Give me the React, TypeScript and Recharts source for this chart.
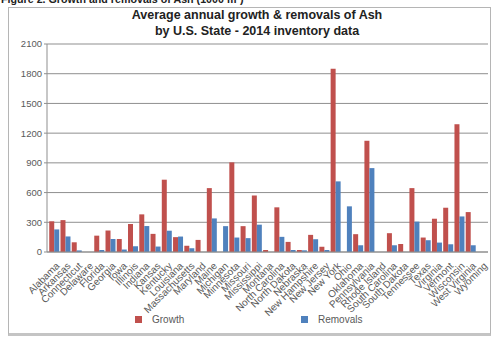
import { BarChart, Bar, XAxis, YAxis, CartesianGrid } from "recharts";

const states = [
  "Alabama", "Arkansas", "Connecticut", "Delaware", "Florida", "Georgia", "Iowa", "Illinois",
  "Indiana", "Kansas", "Kentucky", "Louisiana", "Massachusetts", "Maryland", "Maine", "Michigan",
  "Minnesota", "Missouri", "Mississippi", "Montana", "North Carolina", "North Dakota", "Nebraska",
  "New Hampshire", "New Jersey", "New York", "Ohio", "Oklahoma", "Pennsylvania", "Rhode Island",
  "South Carolina", "South Dakota", "Tennessee", "Texas", "Virginia", "Vermont", "Wisconsin",
  "West Virginia", "Wyoming",
];

const growth = [
  310, 322, 98, 0, 165, 217, 131, 283, 380, 183, 730, 150, 63, 122, 645, 0, 905, 261, 570, 20,
  451, 102, 20, 173, 53, 1850, 0, 180, 1123, 0, 190, 81, 645, 146, 336, 447, 1290, 403, 0,
];

const removals = [
  228, 157, 16, 0, 20, 131, 25, 58, 262, 55, 215, 156, 38, 0, 339, 261, 146, 140, 276, 0,
  153, 20, 17, 129, 20, 713, 461, 68, 847, 0, 68, 0, 307, 119, 95, 78, 359, 68, 0,
];

const yTicks = [0, 300, 600, 900, 1200, 1500, 1800, 2100];

const data = states.map((s, i) => ({ state: s, growth: growth[i], removals: removals[i] }));

const font = "'Liberation Sans', Arial, sans-serif";
const RED = "#C0504D";
const BLUE = "#4F81BD";

function StateTick(props: any) {
  const { x, y, payload } = props;
  return (
    <g transform={`translate(${x + 3},${y + 4})`}>
      <text textAnchor="end" transform="rotate(-45)" dy="0.35em" fontSize={10} fill="#595959" fontFamily={font}>
        {payload.value}
      </text>
    </g>
  );
}

export default function App() {
  return (
    <div style={{ position: "absolute", left: 0, top: 0, width: 495, height: 338, overflow: "hidden", background: "#fff", fontFamily: font }}>
      <div style={{ position: "absolute", left: 1, top: -6, fontSize: 10.7, lineHeight: "10.7px", fontWeight: "bold", color: "#222", whiteSpace: "nowrap" }}>
        Figure 2. Growth and removals of Ash (1000 m³)
      </div>
      <div style={{ position: "absolute", left: 8, top: 7, width: 481, height: 325, border: "1px solid #b5b5b5", borderBottom: "3px solid #c4c4c4" }} />
      <div style={{ position: "absolute", left: 0, width: 514, top: 7, textAlign: "center", fontSize: 12.5, lineHeight: "16px", fontWeight: "bold", color: "#222" }}>
        <div>Average annual growth &amp; removals of Ash</div>
        <div>by U.S. State - 2014 inventory data</div>
      </div>
      <div style={{ position: "absolute", left: 0, top: 0 }}>
        <BarChart width={495} height={338} data={data} margin={{ top: 44, right: 7, bottom: 26, left: 0 }} barCategoryGap="2%" barGap={0}>
          <CartesianGrid vertical={false} stroke="#8f8f8f" />
          <XAxis
            dataKey="state"
            interval={0}
            height={60}
            tick={<StateTick />}
            tickLine={false}
            axisLine={{ stroke: "#8f8f8f" }}
            padding={{ left: 2, right: 0 }}
          />
          <YAxis
            domain={[0, 2100]}
            ticks={yTicks}
            width={47}
            tickSize={3}
            tick={{ fontSize: 9.5, fill: "#595959", fontFamily: font }}
            axisLine={{ stroke: "#8f8f8f" }}
            tickLine={{ stroke: "#8f8f8f" }}
          />
          <Bar dataKey="growth" fill={RED} isAnimationActive={false} />
          <Bar dataKey="removals" fill={BLUE} isAnimationActive={false} />
        </BarChart>
      </div>
      <div style={{ position: "absolute", left: 135, top: 316, width: 7, height: 7, background: RED }} />
      <div style={{ position: "absolute", left: 152, top: 313, fontSize: 10, lineHeight: "13px", color: "#595959" }}>Growth</div>
      <div style={{ position: "absolute", left: 301, top: 316, width: 7, height: 7, background: BLUE }} />
      <div style={{ position: "absolute", left: 318, top: 313, fontSize: 10, lineHeight: "13px", color: "#595959" }}>Removals</div>
    </div>
  );
}
